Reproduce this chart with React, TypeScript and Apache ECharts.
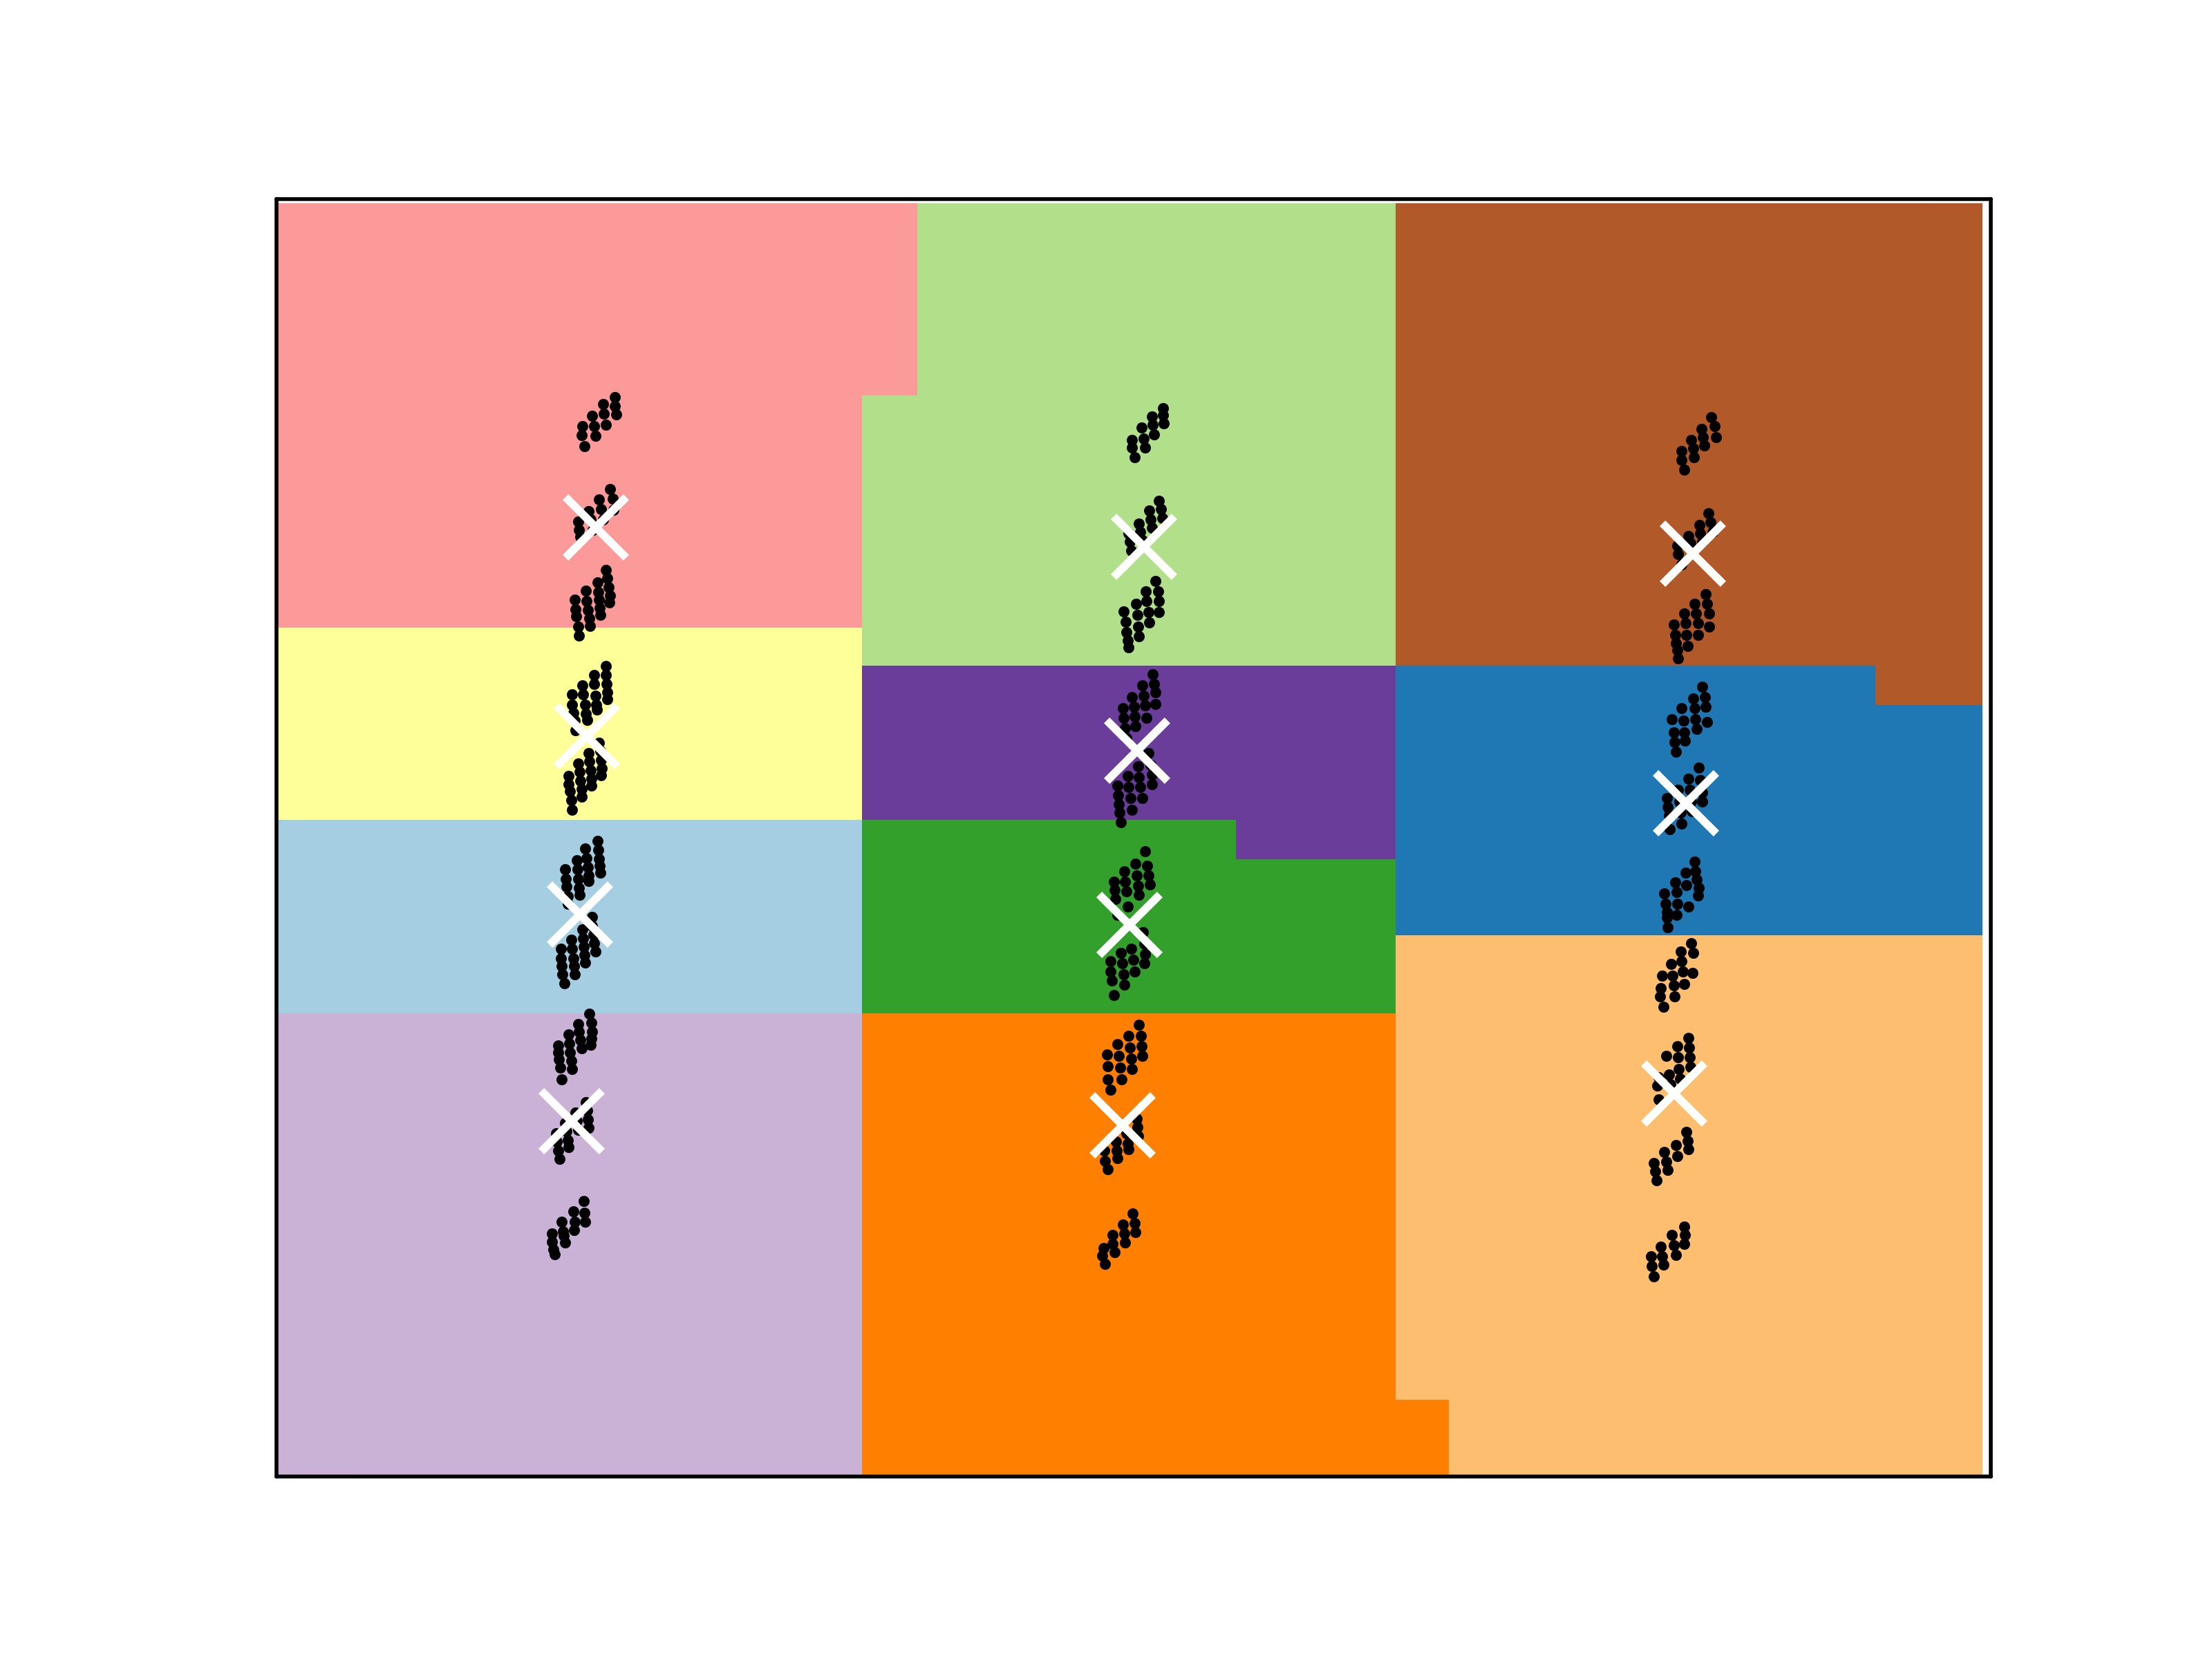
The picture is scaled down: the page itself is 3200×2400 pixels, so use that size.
import React, { useEffect, useRef } from "react";
import * as echarts from "echarts";

// Paired colormap colours, one per k-means cluster label
const clusterColors = [
  "#fb9a99", "#b2df8a", "#b15928", "#ffff99", "#6a3d9a", "#1f78b4",
  "#a6cee3", "#33a02c", "#fdbf6f", "#cab2d6", "#ff7f00",
];

// Decision regions of the mesh: [xFrom, yFrom, xTo, yTo, clusterLabel]
const decisionRegions = [
  [0, 1228, 847, 1564, 0], [0, 1564, 927, 1842, 0],
  [927, 1564, 1619, 1842, 1], [847, 1173, 1619, 1564, 1],
  [1619, 1173, 2468, 1842, 2], [2313, 1116, 2468, 1173, 2],
  [0, 950, 847, 1228, 3],
  [847, 950, 1619, 1173, 4], [1388, 893, 1619, 950, 4],
  [1619, 783, 2313, 1173, 5], [2313, 783, 2468, 1116, 5],
  [0, 670, 847, 950, 6],
  [847, 670, 1388, 950, 7], [1388, 670, 1619, 893, 7],
  [1619, 111, 2468, 783, 8], [1696, 0, 2468, 111, 8],
  [0, 0, 847, 670, 9],
  [847, 111, 1619, 670, 10], [847, 0, 1696, 111, 10],
];

// Reduced data samples (left group of columns)
const samplesLeft = [
  [443,1519],[442,1506],[446,1490],[457,1534],[460,1519],[462,1505],[473,1551],[474,1537],[477,1521],[490,1561],[490,1548],[492,1536],
  [437,1381],[438,1369],[440,1359],[452,1396],[455,1384],[458,1369],[467,1413],[470,1399],[473,1384],[483,1428],[487,1414],[488,1398],
  [432,1268],[433,1254],[434,1244],[437,1229],[438,1216],[448,1281],[449,1266],[451,1253],[453,1241],[454,1230],[465,1293],[466,1279],[467,1268],[468,1256],[469,1246],[477,1311],[479,1299],[481,1286],[483,1274],[482,1264],
  [428,1131],[428,1116],[430,1104],[432,1093],[433,1079],[443,1144],[444,1131],[447,1116],[448,1103],[450,1094],[460,1159],[460,1146],[462,1129],[463,1116],[464,1109],[477,1172],[477,1159],[478,1146],[479,1134],[479,1124],
  [423,1013],[423,1001],[425,991],[427,978],[428,964],[437,1031],[439,1019],[440,1006],[442,994],[442,983],[452,1046],[453,1034],[455,1021],[456,1009],[456,999],[467,1061],[469,1049],[470,1036],[471,1024],[470,1014],
  [418,878],[419,864],[420,853],[422,839],[422,828],[435,891],[436,878],[437,864],[438,851],[439,841],[447,908],[449,894],[451,881],[452,869],[452,861],[465,919],[466,906],[467,893],[468,883],[469,873],
  [412,763],[412,749],[413,738],[414,726],[417,713],[427,776],[428,763],[430,749],[431,738],[432,726],[443,791],[444,778],[445,766],[446,754],[447,743],[457,809],[457,796],[459,783],[460,771],[462,759],
  [408,623],[408,613],[409,603],[411,591],[413,574],[423,639],[424,626],[425,613],[427,601],[428,589],[437,654],[438,643],[440,631],[442,619],[453,669],[456,656],[457,643],[456,633],[455,624],
  [405,496],[406,484],[408,471],[410,459],[418,511],[420,499],[422,486],[423,476],[433,526],[435,514],[437,501],[448,541],[450,529],[451,516],[452,504],
  [399,351],[399,339],[401,328],[403,321],[413,368],[415,354],[416,348],[418,338],[430,383],[432,368],[431,356],[445,398],[446,381],[447,368],
];

// Reduced data samples (middle group)
const samplesMiddle = [
  [1238,1499],[1238,1488],[1242,1474],[1252,1517],[1255,1501],[1257,1488],[1267,1533],[1268,1521],[1270,1507],[1283,1545],[1283,1535],[1284,1523],
  [1233,1364],[1235,1352],[1237,1339],[1248,1378],[1250,1366],[1253,1354],[1263,1397],[1265,1384],[1267,1372],[1277,1411],[1280,1399],[1282,1386],
  [1226,1251],[1229,1236],[1230,1221],[1232,1209],[1233,1199],[1244,1262],[1246,1246],[1247,1229],[1248,1215],[1258,1280],[1259,1266],[1262,1250],[1263,1235],[1272,1295],[1276,1280],[1277,1266],[1277,1250],
  [1225,1111],[1226,1097],[1228,1082],[1230,1068],[1238,1127],[1241,1113],[1242,1099],[1243,1085],[1253,1144],[1255,1129],[1257,1115],[1259,1097],[1268,1160],[1270,1146],[1272,1134],[1272,1117],
  [1217,999],[1218,985],[1219,972],[1220,960],[1222,946],[1232,1013],[1233,997],[1236,981],[1238,964],[1247,1027],[1248,1011],[1250,997],[1253,981],[1262,1046],[1265,1029],[1267,1015],[1267,1001],
  [1212,860],[1213,848],[1214,835],[1217,812],[1227,875],[1228,860],[1230,846],[1232,824],[1243,886],[1245,869],[1247,854],[1248,841],[1257,904],[1260,883],[1262,869],[1264,856],
  [1207,745],[1207,730],[1209,717],[1212,696],[1222,757],[1224,742],[1226,726],[1227,711],[1237,763],[1240,747],[1242,730],[1254,787],[1256,770],[1257,755],[1256,742],
  [1202,610],[1203,593],[1203,574],[1207,559],[1217,625],[1219,608],[1221,591],[1223,574],[1233,637],[1235,620],[1237,604],[1238,589],[1248,653],[1251,637],[1252,622],[1253,608],
  [1198,471],[1199,456],[1203,444],[1215,484],[1216,471],[1217,460],[1230,496],[1232,481],[1233,473],[1245,517],[1246,505],[1247,492],
  [1197,330],[1195,319],[1199,307],[1210,349],[1210,336],[1213,324],[1225,364],[1227,351],[1228,338],[1239,380],[1242,366],[1243,353],
];

// Reduced data samples (right group)
const samplesRight = [
  [2033,1483],[2033,1470],[2037,1456],[2047,1499],[2050,1487],[2051,1474],[2062,1515],[2064,1503],[2066,1491],[2076,1532],[2081,1519],[2083,1503],
  [2027,1346],[2028,1334],[2033,1319],[2043,1360],[2046,1350],[2048,1340],[2059,1376],[2060,1364],[2063,1352],[2072,1393],[2075,1380],[2078,1366],
  [2022,1232],[2024,1217],[2025,1205],[2027,1195],[2028,1183],[2037,1248],[2039,1234],[2040,1217],[2042,1201],[2052,1262],[2054,1248],[2057,1234],[2057,1217],[2068,1276],[2070,1262],[2073,1248],[2073,1229],
  [2019,1095],[2022,1076],[2023,1062],[2025,1048],[2033,1111],[2036,1093],[2037,1076],[2038,1064],[2050,1125],[2052,1111],[2053,1095],[2055,1081],[2063,1142],[2067,1127],[2068,1113],[2070,1091],
  [2012,981],[2013,968],[2015,956],[2016,936],[2028,993],[2030,976],[2032,960],[2033,944],[2043,1009],[2045,993],[2047,976],[2048,962],[2058,1025],[2060,1007],[2063,989],[2063,976],
  [2008,843],[2010,828],[2012,816],[2012,808],[2013,794],[2024,859],[2026,845],[2027,828],[2026,812],[2039,873],[2040,855],[2043,824],[2052,889],[2053,875],[2055,863],[2058,851],[2057,840],
  [2005,724],[2003,706],[2002,694],[2007,679],[2018,741],[2020,724],[2022,710],[2023,694],[2032,759],[2033,745],[2035,730],[2037,712],[2047,771],[2050,757],[2049,728],
  [2000,577],[1998,565],[2000,545],[2011,608],[2015,581],[2017,567],[2027,622],[2028,606],[2029,589],[2031,575],[2043,634],[2044,620],[2045,606],[2046,592],
  [1993,453],[1995,441],[1997,428],[2008,469],[2011,455],[2013,443],[2025,479],[2027,463],[2040,498],[2042,485],[2043,473],
  [1989,318],[1990,304],[1993,289],[2003,332],[2005,318],[2007,306],[2019,349],[2022,334],[2025,320],[2037,361],[2038,349],[2037,336],
];

// Cluster centroids
const centroids = [
  [462,1373],[449,1071],[439,813],[427,514],
  [1255,1345],[1245,1050],[1234,798],[1224,508],
  [2049,1335],[2039,974],[2022,554],
];

const X_MIN = 0, X_MAX = 2480, Y_MIN = 0, Y_MAX = 1848;

const crossPath =
  "path://M0,8.5L8.5,0L50,41.5L91.5,0L100,8.5L58.5,50L100,91.5L91.5,100L50,58.5L8.5,100L0,91.5L41.5,50Z";

export default function App() {
  const ref = useRef<HTMLDivElement>(null);
  useEffect(() => {
    if (!ref.current) return;
    const chart = echarts.init(ref.current, undefined, { renderer: "svg" });
    const frameLine = { show: true, onZero: false, lineStyle: { color: "#000", width: 5.6 } };
    const hiddenAxisBits = {
      axisTick: { show: false },
      axisLabel: { show: false },
      splitLine: { show: false },
    };
    chart.setOption({
      animation: false,
      backgroundColor: "#ffffff",
      grid: { left: 400, top: 288, width: 2480, height: 1848, containLabel: false },
      xAxis: [
        { type: "value", min: X_MIN, max: X_MAX, position: "bottom", axisLine: frameLine, z: 10, ...hiddenAxisBits },
        { type: "value", min: X_MIN, max: X_MAX, position: "top", axisLine: frameLine, z: 10, ...hiddenAxisBits },
      ],
      yAxis: [
        { type: "value", min: Y_MIN, max: Y_MAX, position: "left", axisLine: frameLine, z: 10, ...hiddenAxisBits },
        { type: "value", min: Y_MIN, max: Y_MAX, position: "right", axisLine: frameLine, z: 10, ...hiddenAxisBits },
      ],
      series: [
        {
          type: "custom",
          silent: true,
          z: 1,
          encode: { x: [0, 2], y: [1, 3] },
          data: decisionRegions,
          renderItem: (params: any, api: any) => {
            const p0 = api.coord([api.value(0), api.value(3)]);
            const p1 = api.coord([api.value(2), api.value(1)]);
            return {
              type: "rect",
              shape: { x: p0[0], y: p0[1], width: p1[0] - p0[0], height: p1[1] - p0[1] },
              style: { fill: clusterColors[api.value(4)] },
            };
          },
        },
        {
          type: "scatter",
          silent: true,
          z: 3,
          symbol: "circle",
          symbolSize: 16,
          itemStyle: { color: "#000000", opacity: 1 },
          data: [...samplesLeft, ...samplesMiddle, ...samplesRight],
        },
        {
          type: "scatter",
          silent: true,
          z: 4,
          symbol: crossPath,
          symbolSize: 96,
          itemStyle: { color: "#ffffff", opacity: 1 },
          data: centroids,
        },
      ],
    });
    return () => chart.dispose();
  }, []);
  return (
    <div
      ref={ref}
      style={{ position: "absolute", left: 0, top: 0, width: 3200, height: 2400, background: "#fff" }}
    />
  );
}
